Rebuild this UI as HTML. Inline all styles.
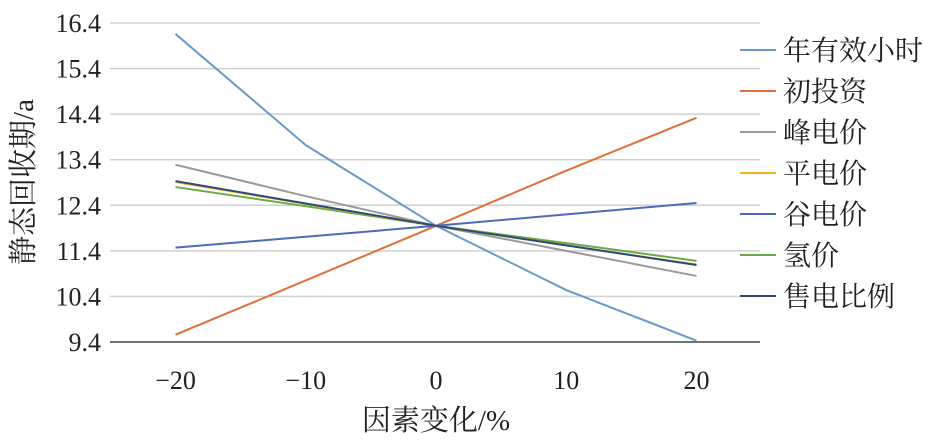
<!DOCTYPE html>
<html><head><meta charset="utf-8"><style>
body{margin:0;background:#fff}
svg{display:block;font-family:"Liberation Serif","Noto Serif CJK SC",serif}
</style></head><body>
<svg id="c" width="945" height="446"></svg>
<script>
const categories=[-20,-10,0,10,20];
const yTicks=[9.4,10.4,11.4,12.4,13.4,14.4,15.4,16.4];
const xTicks=[-20,-10,0,10,20];
const names=["年有效小时","初投资","峰电价","平电价","谷电价","氢价","售电比例"];
const colors=["#6a99cc","#e0703a","#9a9a9a","#f2b21a","#4a6cb8","#6aab45","#2e4a78"];
const s0=[16.16,13.72,11.95,10.54,9.43];
const s1=[9.56,10.75,11.95,13.16,14.32];
const s2=[13.29,12.6,11.95,11.4,10.85];
const s3=[12.91,12.43,11.95,11.52,11.1];
const s4=[11.47,11.71,11.95,12.2,12.45];
const s5=[12.8,12.38,11.95,11.57,11.18];
const s6=[12.93,12.44,11.95,11.52,11.09];
const series=[s0,s1,s2,s3,s4,s5,s6];
const order=[0,1,2,4,5,3,6];
const svg=document.getElementById('c');
const NS='http://www.w3.org/2000/svg';
function X(v){return 436+(v/20)*260.5;}
function Y(v){return 342-(v-9.4)/7*319;}
function mk(t,a){const e=document.createElementNS(NS,t);for(const k in a)e.setAttribute(k,a[k]);svg.appendChild(e);return e;}
yTicks.forEach(t=>{
 if(t>9.4){const g=mk('line',{x1:110,x2:760,y1:Y(t),y2:Y(t),stroke:'#d0d0d0','stroke-width':1.5});
 
 }
 const l=mk('text',{x:101,y:Y(t)+9,'text-anchor':'end','font-size':26,fill:'#222'});l.textContent=t.toFixed(1);
 
 
});
const ax=mk('line',{x1:110,x2:760,y1:342,y2:342,stroke:'#444','stroke-width':1.5});


xTicks.forEach(t=>{
 const l=mk('text',{x:X(t),y:389,'text-anchor':'middle','font-size':26,fill:'#222'});l.textContent=(t<0?'\u2212'+(-t):t);
 
 
});
const xt=mk('text',{x:436,y:430,'text-anchor':'middle','font-size':29,fill:'#222'});xt.textContent='因素变化/%';


const yt=mk('text',{x:0,y:0,'text-anchor':'middle','font-size':29,fill:'#222',transform:'translate(33,182) rotate(-90)'});yt.textContent='静态回收期/a';


order.forEach(i=>{
 const p=mk('polyline',{points:series[i].map((v,j)=>X(categories[j])+','+Y(v)).join(' '),fill:'none',stroke:colors[i],'stroke-width':2});
 
 
});
names.forEach((n,i)=>{
 const y=50+i*41;
 const l=mk('line',{x1:740,x2:776,y1:y,y2:y,stroke:colors[i],'stroke-width':2});
 
 
 const t=mk('text',{x:783,y:y+10,'font-size':28,fill:'#222'});t.textContent=n;
 
 
});
</script>
</body></html>
